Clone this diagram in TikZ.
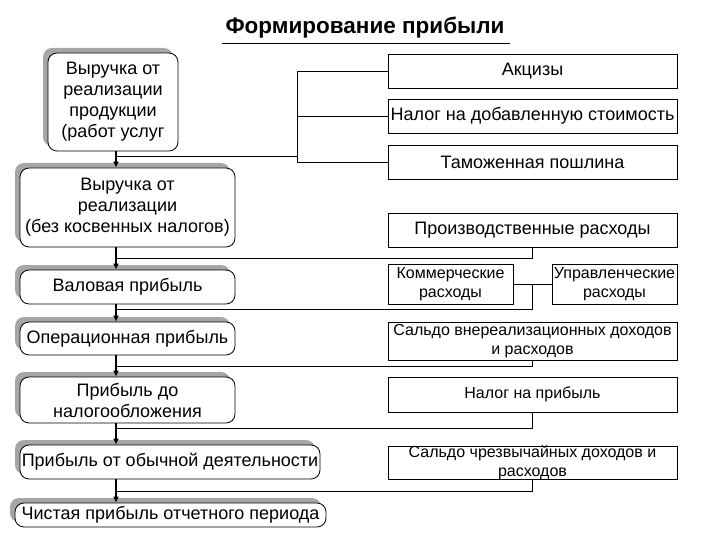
\documentclass[tikz,border=0pt]{standalone}
\usepackage{fontspec}
\setmainfont{Liberation Sans}
\usetikzlibrary{shadows,arrows.meta,calc}

\begin{document}
\begin{tikzpicture}[x=1pt, y=-1pt,
    lbox/.style={draw, line width=0.8pt, rounded corners=9pt, fill=white, align=center,
      inner sep=0pt, font=\fontsize{18}{21}\selectfont,
      drop shadow={shadow xshift=-5pt, shadow yshift=5pt, fill=black!35, opacity=1}},
    rbox/.style={draw, line width=0.8pt, align=center, inner sep=0pt,
      minimum width=289pt, font=\fontsize{18}{21}\selectfont},
    sbox/.style={rbox, font=\fontsize{16}{19}\selectfont},
    arr/.style={line width=1.4pt, -{Latex[length=6pt, width=6pt]}}]
  \useasboundingbox (0,0) rectangle (720,540);

  % title
  \node[font=\bfseries\fontsize{22.5}{26}\selectfont, inner sep=2pt] (title) at (365,28) {Формирование прибыли};
  \draw[line width=0.8pt] (222,43) -- (510,43);

  % left column
  \node[lbox, minimum width=130pt, minimum height=98pt] (b1) at (113,102)
    {Выручка от\\реализации\\продукции\\(работ услуг};
  \node[lbox, minimum width=215pt, minimum height=79pt] (b2) at (127.5,207.5)
    {Выручка от\\реализации\\(без косвенных налогов)};
  \node[lbox, minimum width=215pt, minimum height=34pt] (b3) at (127.5,287) {Валовая прибыль};
  \node[lbox, minimum width=215pt, minimum height=33pt] (b4) at (127.5,338.5) {Операционная прибыль};
  \node[lbox, minimum width=215pt, minimum height=46pt] (b5) at (127.5,400)
    {Прибыль до\\налогообложения};
  \node[lbox, minimum width=300pt, minimum height=34pt] (b6) at (170,462)
    {Прибыль от обычной деятельности};
  \node[lbox, minimum width=311pt, minimum height=24pt] (b7) at (170.5,515)
    {Чистая прибыль отчетного периода};

  % right column
  \node[rbox, minimum height=34pt] (r1) at (532.5,71) {Акцизы};
  \node[rbox, minimum height=34pt] (r2) at (532.5,116) {Налог на добавленную стоимость};
  \node[rbox, minimum height=34pt] (r3) at (532.5,162) {Таможенная пошлина};
  \node[rbox, minimum height=34pt] (r4) at (532.5,230) {Производственные расходы};
  \node[sbox, minimum width=125pt, minimum height=40pt] (r5a) at (450.5,284)
    {Коммерческие\\расходы};
  \node[sbox, minimum width=125pt, minimum height=40pt] (r5b) at (614.5,284)
    {Управленческие\\расходы};
  \node[sbox, minimum height=38pt] (r6) at (532.5,341)
    {Сальдо внереализационных доходов\\и расходов};
  \node[sbox, minimum height=35pt] (r7) at (532.5,394.5) {Налог на прибыль};
  \node[sbox, minimum height=33pt, inner ysep=-2pt] (r8) at (532.5,463)
    {Сальдо чрезвычайных доходов и\\расходов};

  % main line
  \coordinate (trunk) at (116,0);
  \foreach \a/\b in {b1/b2, b2/b3, b3/b4, b4/b5, b5/b6, b6/b7}
    \draw[arr] (\a.south -| trunk) -- (\b.north -| trunk);

  % branches
  \coordinate (j0) at (116,156);
  \coordinate (j1) at (116,258);
  \coordinate (j2) at (116,309);
  \coordinate (j3) at (116,366);
  \coordinate (j4) at (116,428);
  \coordinate (j5) at (116,491);
  \coordinate (brk) at (297,156);

  \draw[line width=0.8pt] (j0) -- (brk);
  \draw[line width=0.8pt] (r1.west) -| (brk);
  \draw[line width=0.8pt] (r3.west) -| (brk);
  \draw[line width=0.8pt] (r2.west) -- (r2.west -| brk);

  \draw[line width=0.8pt] (r4.south) |- (j1);
  \draw[line width=0.8pt] (r5a.east) -- (r5b.west);
  \coordinate (m5) at ($(r5a.east)!.5!(r5b.west)$);
  \draw[line width=0.8pt] (m5) |- (j2);
  \draw[line width=0.8pt] (r6.south) |- (j3);
  \draw[line width=0.8pt] (r7.south) |- (j4);
  \draw[line width=0.8pt] (r8.south) |- (j5);
\end{tikzpicture}
\end{document}
